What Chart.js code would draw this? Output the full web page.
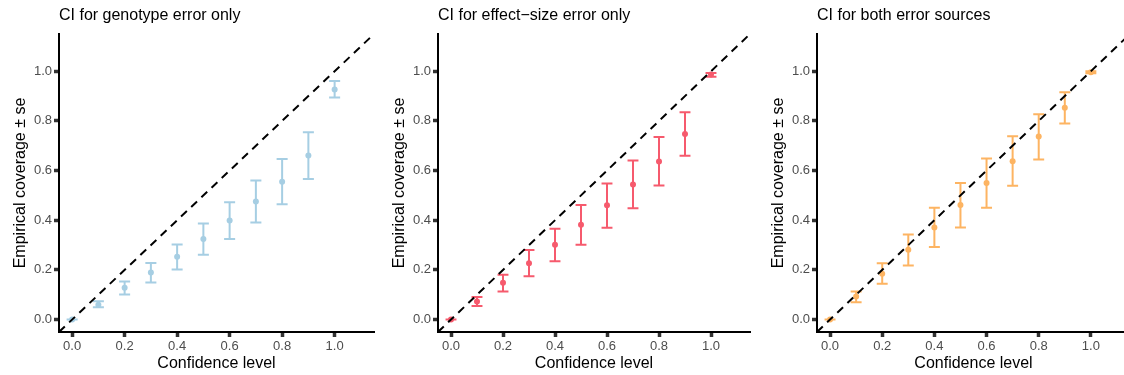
<!DOCTYPE html>
<html>
<head>
<meta charset="utf-8">
<script src="https://cdn.jsdelivr.net/npm/chart.js@4"></script>
<style>
  body { margin: 0; background: #fff; width: 1124px; height: 375px; overflow: hidden; position: relative; }
  .panel { position: absolute; top: 0; height: 375px; }
</style>
</head>
<body>
<div class="panel" style="left:0;width:378px"><canvas id="c1"></canvas></div>
<div class="panel" style="left:379px;width:375px"><canvas id="c2"></canvas></div>
<div class="panel" style="left:758px;width:376px"><canvas id="c3"></canvas></div>
<script>
const levels = [0, 0.1, 0.2, 0.3, 0.4, 0.5, 0.6, 0.7, 0.8, 0.9, 1.0];
const axisTicks = [0, 0.2, 0.4, 0.6, 0.8, 1.0];

// CI for genotype error only
const genoMean = [0, 0.060, 0.128, 0.190, 0.253, 0.324, 0.399, 0.476, 0.555, 0.661, 0.927];
const genoLo   = [0, 0.050, 0.101, 0.149, 0.202, 0.261, 0.324, 0.391, 0.464, 0.566, 0.894];
const genoHi   = [0, 0.074, 0.153, 0.228, 0.302, 0.387, 0.472, 0.560, 0.647, 0.754, 0.961];

// CI for effect-size error only
const effMean = [0, 0.073, 0.148, 0.227, 0.301, 0.382, 0.460, 0.544, 0.637, 0.747, 0.987];
const effLo   = [0, 0.055, 0.113, 0.175, 0.235, 0.301, 0.370, 0.448, 0.540, 0.660, 0.978];
const effHi   = [0, 0.091, 0.181, 0.280, 0.366, 0.461, 0.548, 0.641, 0.735, 0.835, 0.993];

// CI for both error sources
const bothMean = [0, 0.093, 0.185, 0.281, 0.371, 0.461, 0.550, 0.638, 0.737, 0.853, 0.996];
const bothLo   = [0, 0.070, 0.144, 0.218, 0.292, 0.371, 0.450, 0.539, 0.645, 0.790, 0.992];
const bothHi   = [0, 0.113, 0.227, 0.343, 0.450, 0.550, 0.649, 0.738, 0.827, 0.915, 1.000];

const FONT = "'Liberation Sans', Arial, sans-serif";

const errorBars = {
  id: 'errorBars',
  beforeDatasetsDraw(chart, args, opts) {
    const {ctx, scales: {x, y}} = chart;
    ctx.save();
    ctx.strokeStyle = opts.color;
    ctx.lineWidth = 2;
    levels.forEach((lv, i) => {
      const px = x.getPixelForValue(lv);
      const l = x.getPixelForValue(lv - 0.021);
      const r = x.getPixelForValue(lv + 0.021);
      const yl = y.getPixelForValue(opts.lo[i]);
      const yh = y.getPixelForValue(opts.hi[i]);
      ctx.beginPath();
      ctx.moveTo(px, yl); ctx.lineTo(px, yh);
      ctx.moveTo(l, yl); ctx.lineTo(r, yl);
      ctx.moveTo(l, yh); ctx.lineTo(r, yh);
      ctx.stroke();
    });
    ctx.restore();
  }
};

function makePanel(id, title, mean, lo, hi, color) {
  const axisCommon = {
    type: 'linear',
    min: -0.05,
    max: 1.15,
    afterBuildTicks: s => { s.ticks = axisTicks.map(v => ({value: v})); },
    border: { display: true, color: '#000', width: 2 },
    grid: { drawOnChartArea: false, drawTicks: true, tickLength: 5, tickWidth: 3.5, tickColor: '#333' },
    ticks: {
      color: '#4d4d4d',
      font: { family: FONT, size: 13 },
      padding: 2,
      callback: v => v.toFixed(1)
    }
  };
  new Chart(document.getElementById(id), {
    type: 'scatter',
    data: {
      datasets: [{
        type: 'line',
        data: [{x: -0.05, y: -0.05}, {x: 1.15, y: 1.15}],
        borderColor: '#000',
        borderWidth: 2,
        borderDash: [8, 6],
        pointRadius: 0
      }, {
        data: levels.map((lv, i) => ({x: lv, y: mean[i]})),
        backgroundColor: color,
        borderColor: color,
        pointRadius: 3,
        pointBorderWidth: 0
      }]
    },
    options: {
      responsive: true,
      maintainAspectRatio: false,
      animation: false,
      layout: { padding: { left: 0, right: 2, top: 0, bottom: 0 } },
      plugins: {
        legend: { display: false },
        tooltip: { enabled: false },
        title: {
          display: true,
          text: title,
          align: 'start',
          fullSize: false,
          color: '#000',
          font: { family: FONT, size: 16, weight: 'normal' },
          padding: { top: 6, bottom: 8.8 }
        },
        errorBars: { color, lo, hi }
      },
      scales: {
        x: Object.assign({}, axisCommon, {
          afterFit: s => { s.height = 43; },
          title: {
            display: true, text: 'Confidence level', color: '#000',
            font: { family: FONT, size: 16 }, padding: { top: 0, bottom: 2 }
          }
        }),
        y: Object.assign({}, axisCommon, {
          afterFit: s => { s.width = 59; },
          title: {
            display: true, text: 'Empirical coverage \u00b1 se', color: '#000',
            font: { family: FONT, size: 16 }, padding: { top: 11, bottom: 0 }
          }
        })
      }
    },
    plugins: [errorBars]
  });
}

makePanel('c1', 'CI for genotype error only', genoMean, genoLo, genoHi, '#a6cee3');
makePanel('c2', 'CI for effect\u2212size error only', effMean, effLo, effHi, '#f65a6d');
makePanel('c3', 'CI for both error sources', bothMean, bothLo, bothHi, '#fdb462');
</script>
</body>
</html>
